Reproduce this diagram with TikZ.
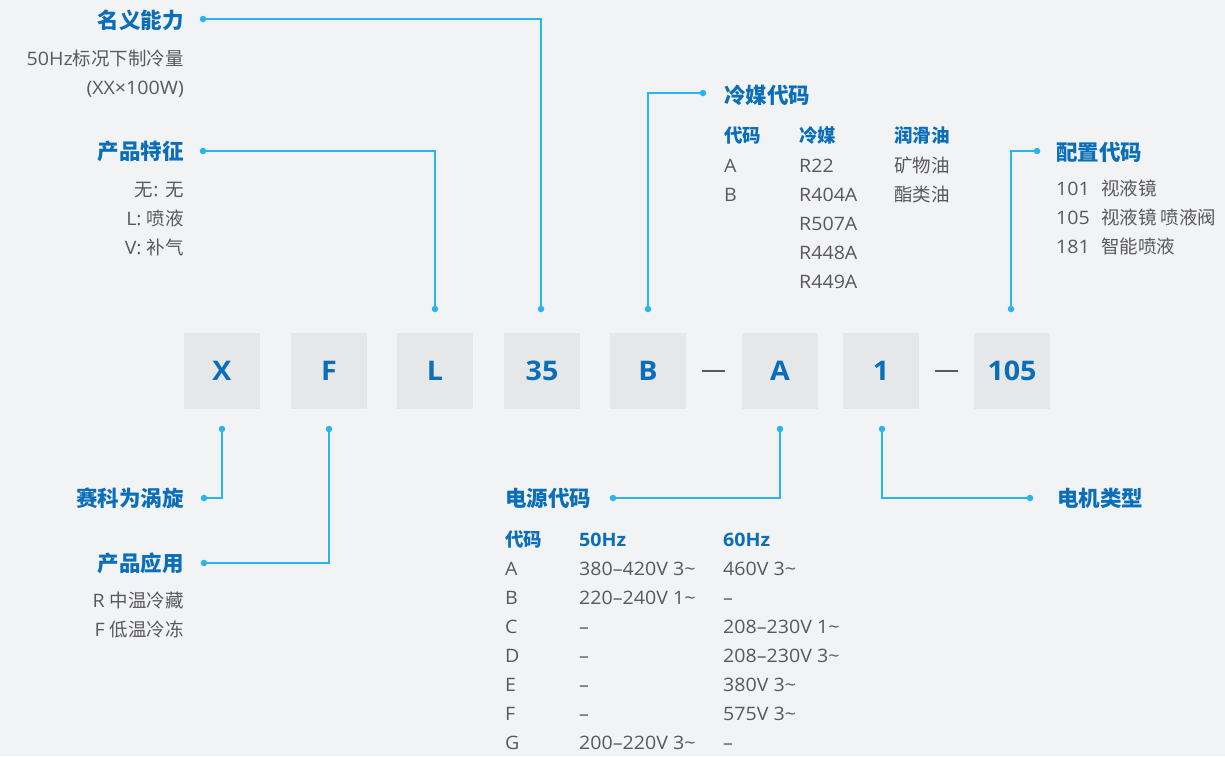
\documentclass[tikz,border=0pt]{standalone}
\usepackage{fontspec}
\setmainfont{Open Sans}[FakeStretch=1.06]
\newfontfamily\cjk{Noto Sans CJK SC}
\newcommand{\zh}[1]{{\cjk #1}}
\definecolor{bg}{HTML}{F2F3F5}
\definecolor{boxc}{HTML}{E6E7E9}
\definecolor{blu}{HTML}{0B6EB9}
\definecolor{cy}{HTML}{2AB4EC}
\definecolor{gry}{HTML}{595959}
\tikzset{
  codebox/.style={fill=boxc, minimum width=76pt, minimum height=76pt, inner sep=0pt, font=\fontsize{27}{27}\selectfont\bfseries, text=blu},
  hd/.style={font=\fontsize{21.5}{21.5}\selectfont\bfseries\cjk, text=blu, inner sep=0pt},
  th/.style={font=\fontsize{18.5}{18.5}\selectfont\bfseries, text=blu, inner sep=0pt},
  sub/.style={font=\fontsize{18.5}{18.5}\selectfont, text=gry, inner sep=0pt},
  lnk/.style={draw=cy, line width=1.3pt},
  dotc/.style={circle, fill=cy, inner sep=0pt, minimum size=6.5pt},
}
\begin{document}
\begin{tikzpicture}[x=1pt,y=-1pt]
\fill[bg] (0,0) rectangle (1225,756);
\useasboundingbox (0,0) rectangle (1225,756);
% code boxes
\node[codebox] (bX) at (222,371) {X};
\node[codebox] (bF) at (329,371) {F};
\node[codebox] (bL) at (435,371) {L};
\node[codebox] (b35) at (542,371) {35};
\node[codebox] (bB) at (648,371) {B};
\node[codebox] (bA) at (780,371) {A};
\node[codebox] (b1) at (881,371) {1};
\node[codebox] (b105) at (1012,371) {105};
\draw[gry, line width=2pt] (bB.east) ++(16,0) coordinate (d1a) -- ++(23,0) coordinate (d1b);
\draw[gry, line width=2pt] (b1.east) ++(16,0) coordinate (d2a) -- ++(23,0) coordinate (d2b);
% dots
\node[dotc] (p35) at (541,309) {};
\node[dotc] (pL) at (435,309) {};
\node[dotc] (pB) at (648,309) {};
\node[dotc] (p105) at (1011,309) {};
\node[dotc] (pX) at (222,429) {};
\node[dotc] (pF) at (329,429) {};
\node[dotc] (pA) at (780,429) {};
\node[dotc] (p1) at (882,429) {};
\node[dotc] (q1) at (203,19) {};
\node[dotc] (q2) at (203,151) {};
\node[dotc] (q3) at (703,93) {};
\node[dotc] (q4) at (1037,151) {};
\node[dotc] (q5) at (204,498) {};
\node[dotc] (q6) at (204,563) {};
\node[dotc] (q7) at (613,498) {};
\node[dotc] (q8) at (1030,498) {};
% connectors
\draw[lnk] (q1.center) -| (p35.center);
\draw[lnk] (q2.center) -| (pL.center);
\draw[lnk] (q3.center) -| (pB.center);
\draw[lnk] (q4.center) -| (p105.center);
\draw[lnk] (q5.center) -| (pX.center);
\draw[lnk] (q6.center) -| (pF.center);
\draw[lnk] (q7.center) -| (pA.center);
\draw[lnk] (q8.center) -| (p1.center);
% left top
\node[hd, anchor=base east] (t1) at (184,28) {名义能力};
\node[sub, anchor=base east] (t1a) at (184,65) {50Hz\zh{标况下制冷量}};
\node[sub, anchor=base east] (t1b) at (184,94) {(XX×100W)};
\node[hd, anchor=base east] (t2) at (184,159) {产品特征};
\node[sub, anchor=base east] (t2a) at (184,196) {\zh{无}: \zh{无}};
\node[sub, anchor=base east] (t2b) at (184,225) {L: \zh{喷液}};
\node[sub, anchor=base east] (t2c) at (184,254) {V: \zh{补气}};
% refrigerant
\node[hd, anchor=base west] (t3) at (724,103) {冷媒代码};
\node[th, anchor=base west] (t3h1) at (724,142) {\zh{代码}};
\node[th, anchor=base west] (t3h2) at (799,142) {\zh{冷媒}};
\node[th, anchor=base west] (t3h3) at (894,142) {\zh{润滑油}};
\foreach \y/\a/\b/\c [count=\i] in {165/A/R22/矿物油, 194/B/R404A/酯类油, 223//R507A/, 252//R448A/, 281//R449A/} {
  \node[sub, anchor=base west] (r\i a) at (724,\y+7) {\a};
  \node[sub, anchor=base west] (r\i b) at (799,\y+7) {\b};
  \node[sub, anchor=base west] (r\i c) at (894,\y+7) {\zh{\c}};
}
% config
\node[hd, anchor=base west] (t4) at (1056,160) {配置代码};
\foreach \y/\a/\b [count=\i] in {188/101/视液镜, 217/105/视液镜 喷液阀, 246/181/智能喷液} {
  \node[sub, anchor=base west] (c\i a) at (1056,\y+7) {\a};
  \node[sub, anchor=base west] (c\i b) at (1101,\y+7) {\zh{\b}};
}
% bottom left
\node[hd, anchor=base east] (t5) at (184,506) {赛科为涡旋};
\node[hd, anchor=base east] (t6) at (184,571) {产品应用};
\node[sub, anchor=base east] (t6a) at (184,607) {R \zh{中温冷藏}};
\node[sub, anchor=base east] (t6b) at (184,636) {F \zh{低温冷冻}};
% power
\node[hd, anchor=base west] (t7) at (505,506) {电源代码};
\node[th, anchor=base west] (t7h1) at (505,546) {\zh{代码}};
\node[th, anchor=base west] (t7h2) at (579,546) {50Hz};
\node[th, anchor=base west] (t7h3) at (723,546) {60Hz};
\foreach \y/\a/\b/\c [count=\i] in {568/A/380–420V 3\textasciitilde/460V 3\textasciitilde, 597/B/220–240V 1\textasciitilde/–, 626/C/–/208–230V 1\textasciitilde, 655/D/–/208–230V 3\textasciitilde, 684/E/–/380V 3\textasciitilde, 713/F/–/575V 3\textasciitilde, 742/G/200–220V 3\textasciitilde/–} {
  \node[sub, anchor=base west] (e\i a) at (505,\y+7) {\a};
  \node[sub, anchor=base west] (e\i b) at (579,\y+7) {\b};
  \node[sub, anchor=base west] (e\i c) at (723,\y+7) {\c};
}
% motor
\node[hd, anchor=base west] (t8) at (1057,506) {电机类型};
\end{tikzpicture}
\end{document}
